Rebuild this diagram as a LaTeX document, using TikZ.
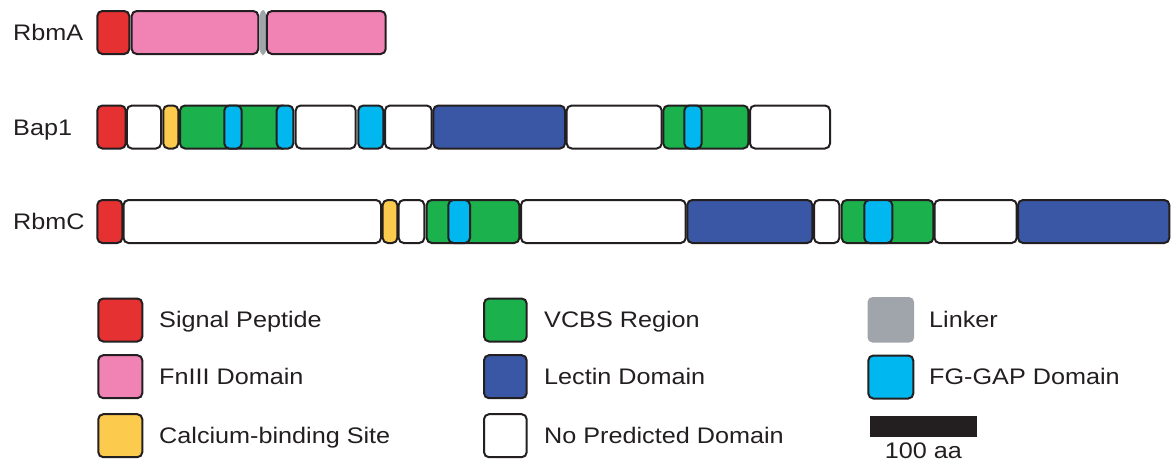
\documentclass[tikz,border=0pt]{standalone}
\usepackage{fontspec}
\setmainfont{Liberation Sans}[FakeStretch=1.12]
\definecolor{ink}{HTML}{231F20}
\definecolor{sigred}{HTML}{E53131}
\definecolor{fnpink}{HTML}{F083B4}
\definecolor{calyel}{HTML}{FCCB4E}
\definecolor{vcgreen}{HTML}{1BB14C}
\definecolor{lecblue}{HTML}{3A57A6}
\definecolor{fgcyan}{HTML}{00B8EF}
\definecolor{linkgray}{HTML}{A0A5AB}
\tikzset{
  seg/.style={rectangle, rounded corners=5pt, draw=ink, line width=2pt, inner sep=0pt, outer sep=0pt},
  lbl/.style={anchor=base west, inner sep=0pt, text=ink, font=\fontsize{22.5}{26}\selectfont},
}
% \segbox{name}{fill}{x1}{x2}{ycenter}{height}
\newcommand\segbox[6]{\node[seg, fill=#2, minimum width={(#4-#3)*1pt}, minimum height={#6*1pt}] (#1) at ({(#3+#4)/2},#5) {};}
\newcommand\lnkbox[6]{\node[seg, draw=none, fill=#2, minimum width={(#4-#3)*1pt}, minimum height={#6*1pt}] (#1) at ({(#3+#4)/2},#5) {};}
\begin{document}
\begin{tikzpicture}[x=1pt,y=-1pt]
\useasboundingbox (0,0) rectangle (1172,466);
% row labels
\node[lbl] (lA) at (13,40.5) {RbmA};
\node[lbl] (lB) at (13,135) {Bap1};
\node[lbl] (lC) at (13,229.5) {RbmC};
% RbmA
\segbox{a1}{sigred}{97.3}{129.3}{32.5}{43}
\segbox{a2}{fnpink}{131.7}{258.3}{32.5}{43}
\lnkbox{aL}{linkgray}{259.6}{266.4}{32.5}{45}
\segbox{a3}{fnpink}{266.9}{385.7}{32.5}{43}
% Bap1
\segbox{b1}{sigred}{97.3}{125.7}{127}{43}
\segbox{b2}{white}{126.9}{161}{127}{43}
\segbox{b3}{calyel}{163.3}{178.3}{127}{43}
\segbox{b4}{vcgreen}{180}{288}{127}{43}
\segbox{b5}{fgcyan}{224.3}{241.7}{127}{43}
\segbox{b6}{fgcyan}{276.7}{293.3}{127}{43}
\segbox{b7}{white}{295.7}{355.7}{127}{43}
\segbox{b8}{fgcyan}{358.3}{383.3}{127}{43}
\segbox{b9}{white}{385}{431.7}{127}{43}
\segbox{b10}{lecblue}{433.3}{565}{127}{43}
\segbox{b11}{white}{566.7}{661.7}{127}{43}
\segbox{b12}{vcgreen}{663.3}{748.3}{127}{43}
\segbox{b13}{fgcyan}{684.3}{701.7}{127}{43}
\segbox{b14}{white}{750}{830}{127}{43}
% RbmC
\segbox{c1}{sigred}{97.3}{122.3}{221.5}{43}
\segbox{c2}{white}{123.5}{381}{221.5}{43}
\segbox{c3}{calyel}{382.7}{397.3}{221.5}{43}
\segbox{c4}{white}{398.7}{424.3}{221.5}{43}
\segbox{c5}{vcgreen}{426.7}{519.3}{221.5}{43}
\segbox{c6}{fgcyan}{448.3}{470}{221.5}{43}
\segbox{c7}{white}{521}{685.7}{221.5}{43}
\segbox{c8}{lecblue}{687.3}{812.3}{221.5}{43}
\segbox{c9}{white}{814}{839.3}{221.5}{43}
\segbox{c10}{vcgreen}{841.7}{933.3}{221.5}{43}
\segbox{c11}{fgcyan}{864.3}{892.3}{221.5}{43}
\segbox{c12}{white}{934.5}{1016.7}{221.5}{43}
\segbox{c13}{lecblue}{1018}{1169.3}{221.5}{43}
% legend column 1
\segbox{k1}{sigred}{98.3}{142.3}{320}{43}
\segbox{k2}{fnpink}{98.3}{142.3}{376.7}{43}
\segbox{k3}{calyel}{98.3}{142.3}{435.7}{43}
\node[lbl] (t1) at (159,327.7) {Signal Peptide};
\node[lbl] (t2) at (159,384.4) {FnIII Domain};
\node[lbl] (t3) at (159,443.4) {Calcium-binding Site};
% legend column 2
\segbox{k4}{vcgreen}{484}{526.7}{320}{43}
\segbox{k5}{lecblue}{484}{526.7}{376.7}{43}
\segbox{k6}{white}{484}{526.7}{435.7}{43}
\node[lbl] (t4) at (544,327.7) {VCBS Region};
\node[lbl] (t5) at (544,384.4) {Lectin Domain};
\node[lbl] (t6) at (544,443.4) {No Predicted Domain};
% legend column 3
\lnkbox{k7}{linkgray}{867.5}{914.1}{319.8}{45.5}
\segbox{k8}{fgcyan}{868.3}{913.3}{377}{43}
\node[lbl] (t7) at (929,327.7) {Linker};
\node[lbl] (t8) at (929,384.4) {FG-GAP Domain};
% scale bar
\node[rectangle, fill=ink, inner sep=0pt, minimum width=106.7pt, minimum height=20.7pt] (bar) at (923.3,426.3) {};
\node[lbl, anchor=base] (t9) at (923.3,458.5) {100 aa};
\end{tikzpicture}
\end{document}
